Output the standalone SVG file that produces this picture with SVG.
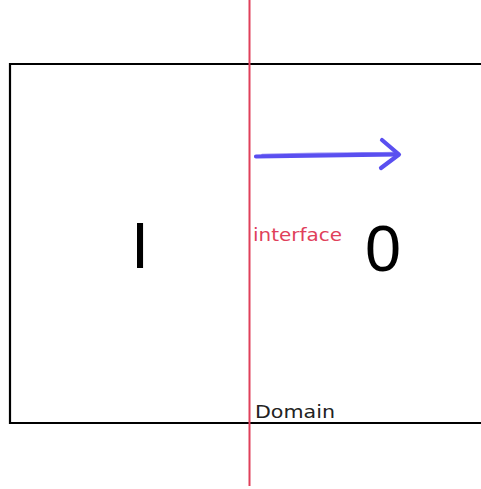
<svg xmlns="http://www.w3.org/2000/svg" width="481" height="489" viewBox="0 0 481 489">
  <style>
    .domain { fill: none; stroke: #000; stroke-width: 2.2; }
    .iface { stroke: #e0405a; stroke-width: 2; }
    .flow { fill: none; stroke: #5a4ff0; stroke-linecap: round; stroke-linejoin: round; }
    .phase { font-family: "Liberation Sans", Arial, sans-serif; font-size: 65px; fill: #000; }
    .lbl { font-family: "DejaVu Sans", Verdana, sans-serif; }
  </style>
  <rect width="481" height="489" fill="#fff"/>

  <!-- computational domain (right side runs off the page) -->
  <g id="domain">
    <path class="domain" d="M490,64 H10 V423 H490"/>
    <text class="lbl" x="255" y="418" font-size="18" fill="#222" textLength="80" lengthAdjust="spacingAndGlyphs">Domain</text>
  </g>

  <!-- phase labels -->
  <g id="phase-1">
    <text class="phase" x="131" y="268">I</text>
  </g>
  <g id="phase-0">
    <text class="phase" x="365" y="271" font-size="68" textLength="36" lengthAdjust="spacingAndGlyphs">0</text>
  </g>

  <!-- interface line -->
  <g id="interface">
    <line class="iface" x1="249.5" y1="0" x2="249.5" y2="486"/>
    <text class="lbl" x="253" y="241" font-size="18" fill="#e0405a" textLength="89" lengthAdjust="spacingAndGlyphs">interface</text>
  </g>

  <!-- interface motion arrow -->
  <g id="connectors">
    <path class="flow" stroke-width="4.2" d="M256,156.5 C300,155.5 350,155 398,154.5"/>
    <path class="flow" stroke-width="1.5" opacity="0.6" d="M262,154.5 C310,153 350,153 395,152.5"/>
    <path class="flow" stroke-width="4.2" d="M382,140 L399,154.5 L381,168"/>
  </g>
</svg>
